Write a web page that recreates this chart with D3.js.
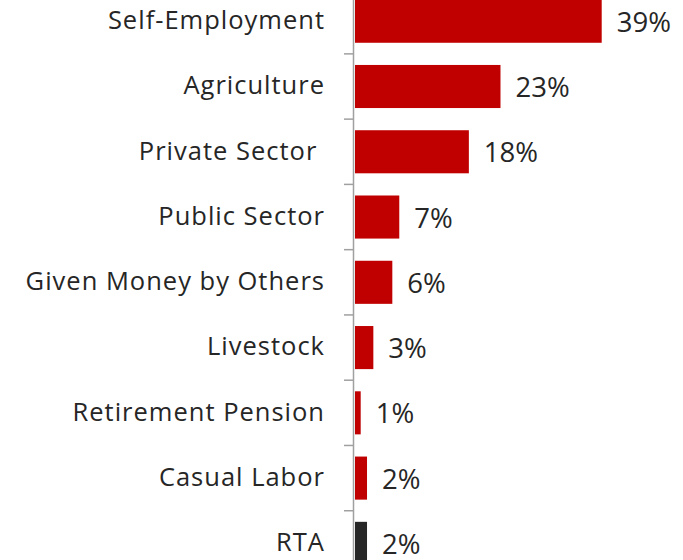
<!DOCTYPE html>
<html><head><meta charset="utf-8">
<script src="https://cdn.jsdelivr.net/npm/d3@7"></script>
<style>body{margin:0;background:#fff;}svg{display:block;}</style>
</head><body>
<svg id="c" width="683" height="560"></svg>
<script>
const categories = ["Self-Employment","Agriculture","Private Sector ","Public Sector","Given Money by Others","Livestock","Retirement Pension","Casual Labor","RTA"];
const values = [39.0, 23.0, 18.0, 7.0, 5.9, 2.9, 0.9, 1.9, 1.9];
const valueLabels = ["39%","23%","18%","7%","6%","3%","1%","2%","2%"];
const barColors = ["#C00000","#C00000","#C00000","#C00000","#C00000","#C00000","#C00000","#C00000","#262626"];

const svg = d3.select("#c");
const font = "'Open Sans', sans-serif";
const x = d3.scaleLinear().domain([0, 39]).range([355, 601.7]);
const y = d3.scaleBand().domain(categories).range([-11.4, 576]).paddingInner(0.34).paddingOuter(0.17);

svg.selectAll("rect.bar").data(categories).join("rect")
  .attr("class","bar")
  .attr("x", x(0))
  .attr("y", d => y(d))
  .attr("width", (d,i) => x(values[i]) - x(0))
  .attr("height", y.bandwidth())
  .attr("fill", (d,i) => barColors[i]);

const axisX = 353.5;
svg.append("line").attr("x1", axisX).attr("x2", axisX).attr("y1", 0).attr("y2", 560)
  .attr("stroke", "#a0a0a0").attr("stroke-width", 1.5);
const step = y.step();
const bounds = d3.range(categories.length + 1).map(i => y.range()[0] + step * i);
svg.selectAll("line.tick").data(bounds).join("line")
  .attr("class","tick")
  .attr("x1", 344).attr("x2", axisX).attr("y1", d => d).attr("y2", d => d)
  .attr("stroke", "#a0a0a0").attr("stroke-width", 1.5);

svg.selectAll("text.cat").data(categories).join("text")
  .attr("class","cat")
  .attr("x", 325)
  .attr("y", d => y(d) + y.bandwidth()/2 + 7.8)
  .attr("text-anchor","end")
  .attr("font-family", font).attr("font-size", 25.5)
  .attr("letter-spacing", 1)
  .attr("fill", "#262626")
  .style("white-space","pre")
  .text(d => d);

svg.selectAll("text.val").data(categories).join("text")
  .attr("class","val")
  .attr("x", (d,i) => x(values[i]) + 15)
  .attr("y", d => y(d) + y.bandwidth()/2 + 10.5)
  .attr("font-family", font).attr("font-size", 27.5)
  .attr("fill", "#262626")
  .text((d,i) => valueLabels[i]);
</script>
</body></html>
